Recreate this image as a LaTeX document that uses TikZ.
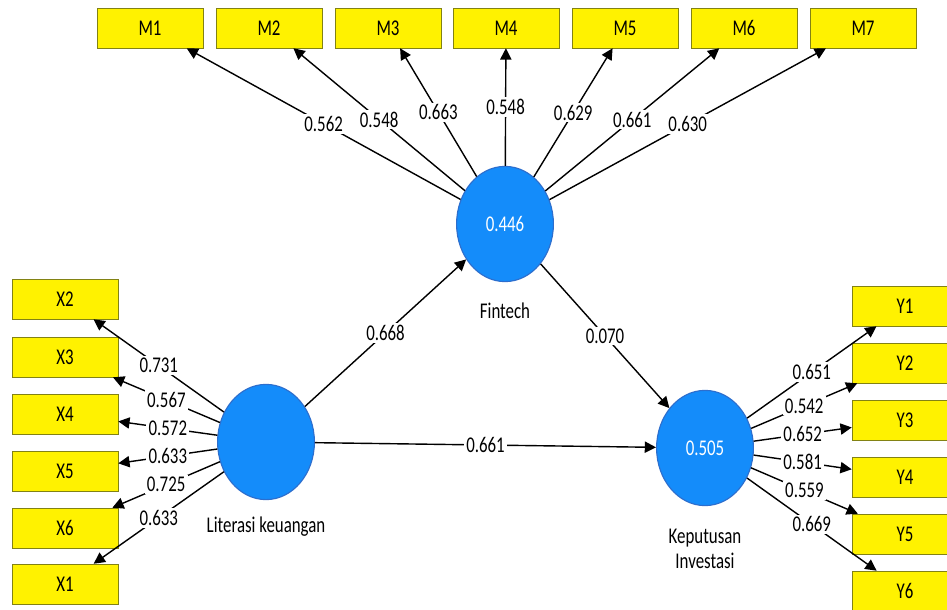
\documentclass[tikz,border=0pt]{standalone}
\usepackage{fontspec}
\setmainfont{Carlito}[FakeStretch=0.75]
\usetikzlibrary{arrows.meta, positioning, shapes.geometric}

\definecolor{plsblue}{RGB}{20,140,250}
\definecolor{plsedge}{RGB}{45,110,205}
\definecolor{boxline}{RGB}{130,130,20}

\begin{document}
\begin{tikzpicture}[
    x=0.025cm, y=-0.025cm,
    every node/.style={font=\fontsize{16}{18}\selectfont},
    indicator/.style={rectangle, draw=boxline, fill=yellow, minimum width=2.65cm, minimum height=1cm, inner sep=0pt},
    construct/.style={ellipse, draw=plsedge, thick, fill=plsblue, minimum width=2.42cm, minimum height=2.88cm, inner sep=0pt, text=white},
    arrow/.style={-{Triangle[length=8pt, width=8pt]}, line width=1pt},
    weight/.style={fill=white, inner sep=1.5pt},
    caption/.style={align=center}
]

\useasboundingbox (0,0) rectangle (947,610);
\clip (0,0) rectangle (947,610);

% Constructs
\node[construct] (fin) at (505,224) {0.446};
\node[construct] (lit) at (266,442) {};
\node[construct] (kep) at (705,448) {0.505};

\node[caption, below=0.4cm of fin] {Fintech};
\node[caption, below=0.3cm of lit] {Literasi keuangan};
\node[caption, below=0.45cm of kep] {Keputusan\\Investasi};

% Indicators of Fintech
\foreach \i/\xpos in {1/150, 2/269, 3/388, 4/506, 5/625, 6/744, 7/863} {
    \node[indicator] (m\i) at (\xpos,28) {M\i};
}

% Indicators of Literasi keuangan
\foreach \i/\ypos in {2/299, 3/357, 4/414, 5/471, 6/528, 1/584} {
    \node[indicator] (x\i) at (65,\ypos) {X\i};
}

% Indicators of Keputusan Investasi
\foreach \i/\ypos in {1/306, 2/363, 3/420, 4/477, 5/534, 6/591} {
    \node[indicator] (y\i) at (905,\ypos) {Y\i};
}

% Outer loadings
\foreach \i/\v in {1/0.562, 2/0.548, 3/0.663, 4/0.548, 5/0.629, 6/0.661, 7/0.630} {
    \draw[arrow] (fin) -- node[weight] {\v} (m\i);
}
\foreach \i/\v in {2/0.731, 3/0.567, 4/0.572, 5/0.633, 6/0.725, 1/0.633} {
    \draw[arrow] (lit) -- node[weight] {\v} (x\i);
}
\foreach \i/\v in {1/0.651, 2/0.542, 3/0.652, 4/0.581, 5/0.559, 6/0.669} {
    \draw[arrow] (kep) -- node[weight] {\v} (y\i);
}

% Path coefficients
\draw[arrow] (lit) -- node[weight] {0.668} (fin);
\draw[arrow] (fin) -- node[weight] {0.070} (kep);
\draw[arrow] (lit) -- node[weight] {0.661} (kep);

\end{tikzpicture}
\end{document}
